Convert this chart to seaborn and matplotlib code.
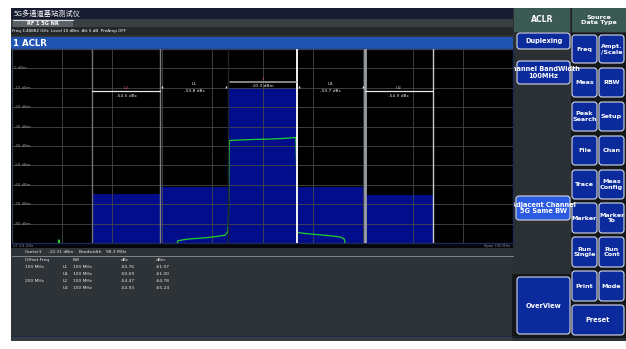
import numpy as np
import matplotlib
matplotlib.use("Agg")
import matplotlib.pyplot as plt
import matplotlib.patches as mpatches
import matplotlib.transforms as mtrans
import seaborn as sns

# ---- measurement data -------------------------------------------------
carrier_power = -10.31          # dBm, main channel
carrier_bw_label = "98.3 MHz"
channel_bw = 100.0              # MHz
channel_offsets = [-200, -100, 0, 100, 200]   # MHz from centre
channel_names = ["L2", "L1", "1", "U1", "U2"]

adj_names = ["L1", "U1", "L2", "U2"]
adj_offset_labels = ["100 MHz", "", "200 MHz", ""]
adj_bw_labels = ["100 MHz", "100 MHz", "100 MHz", "100 MHz"]
adj_dbc = [-50.76, -50.69, -54.47, -54.93]

# spectrum trace (frequency offset in MHz, level in dBm)
trace_freq = [-367.5, -300.0, -299.0, -298.0, -297.0, -130.0, -124.0, -110.0,
              -95.0, -80.0, -65.0, -55.0, -51.0, -50.0, -49.5, -49.0, -48.5,
              -40.0, -25.0, -10.0, 5.0, 20.0, 35.0, 48.0, 49.0, 50.0, 50.5,
              51.0, 60.0, 75.0, 90.0, 105.0, 115.0, 120.0, 124.0, 367.5]
trace_level = [-96, -96, -88.5, -88.5, -96, -96, -88.8, -88.0,
               -87.6, -87.2, -86.5, -86.0, -84.3, -80, -62, -44, -37.2,
               -37.0, -36.8, -36.6, -36.5, -36.3, -36.0, -35.6, -35.6, -50, -70,
               -84.5, -85.0, -85.5, -86.0, -86.5, -87.0, -88, -96, -96]

y_tick_values = [0, -10, -20, -30, -40, -50, -60, -70, -80]
y_tick_labels = ["0 dBm", "-10 dBm", "-20 dBm", "-30 dBm", "-40 dBm",
                 "-50 dBm", "-60 dBm", "-70 dBm", "-80 dBm"]
span = 735.0      # MHz
ref_level = 10.0  # dBm
bottom_level = -90.0

# ---- figure -----------------------------------------------------------
sns.set_theme(style="dark")
plt.rcParams['font.family'] = ['DejaVu Sans', 'Noto Sans CJK SC']
W, H = 626, 349
fig = plt.figure(figsize=(W / 100, H / 100), dpi=100, facecolor="white")

bg = fig.add_axes([0, 0, 1, 1], zorder=0)
bg.set_xlim(0, W)
bg.set_ylim(H, 0)
bg.axis("off")


def rect(x0, y0, x1, y1, color, **kw):
    bg.add_patch(mpatches.Rectangle((x0, y0), x1 - x0, y1 - y0,
                                    facecolor=color, edgecolor=kw.pop("ec", "none"),
                                    lw=kw.pop("lw", 0), **kw))


# screen body
rect(11, 8, 626, 341, "#2d3236")
# title bar
rect(11, 8, 513, 19, "#181c30")
bg.text(14, 13.5, "5G多通道基站测试仪", color="white", fontsize=5.2,
        va="center", family=["Noto Sans CJK SC", "DejaVu Sans"])
# tab row
rect(11, 19, 513, 27, "#3a3f44")
rect(13, 20, 73, 27, "#5b6167")
bg.plot([13, 73], [20.3, 20.3], color="#d8dde2", lw=0.8)
bg.text(43, 23.7, "RF 1 5G NR", color="white", fontsize=3.6,
        ha="center", va="center", weight="bold")
# info line
rect(11, 27, 513, 35, "#23272a")
bg.text(12, 31, "Freq 3.48882 GHz  Level 10 dBm  Att 5 dB  PreAmp OFF",
        color="white", fontsize=3.0, va="center")
# measurement header
rect(11, 37, 513, 48.5, "#2154b3")
bg.text(13, 43, "1 ACLR", color="white", fontsize=6.2, weight="bold", va="center")
# plot frame + strip below plot
rect(11, 48.5, 514, 248, "#05070c")
bg.text(13, 245.6, "CF 3.5 GHz", color="#8d949a", fontsize=2.6, va="center")
bg.text(510, 245.6, "Span 735 MHz", color="#8d949a", fontsize=2.6,
        va="center", ha="right")
# results area
rect(11, 248, 514, 336, "#2e3337")
bg.plot([12, 513], [256, 256], color="#8d949a", lw=0.6)
rect(11, 336, 626, 341, "#363b40")
bg.plot([11, 514], [336, 336], color="#1c2a44", lw=0.8)

txt = dict(color="#e4e6e8", fontsize=3.2, va="center")
bg.text(25, 252, "Carrier1", **txt)
bg.text(48, 252, f"{carrier_power:.2f} dBm", **txt)
bg.text(79, 252, "Bandwidth", **txt)
bg.text(106, 252, carrier_bw_label, **txt)
bg.text(25, 260, "Offset Freq", **txt)
bg.text(73, 260, "BW", **txt)
bg.text(121, 260, "dBc", **txt)
bg.text(156, 260, "dBm", **txt)
for i, (name, off, bw, dbc) in enumerate(zip(adj_names, adj_offset_labels,
                                             adj_bw_labels, adj_dbc)):
    y = 267 + 7 * i
    bg.text(25, y, off, **txt)
    bg.text(63, y, name, **txt)
    bg.text(73, y, bw, **txt)
    bg.text(121, y, f"{dbc:.2f}", **txt)
    bg.text(156, y, f"{carrier_power + dbc:.2f}", **txt)

# right-hand soft key panel
rect(513, 8, 626, 341, "#2b3034")
rect(514, 8, 570, 32, "#3c5a54")
rect(571, 8, 626, 32, "#3c5a54")
bg.plot([570.5, 570.5], [8, 32], color="#1e2326", lw=0.8)
bg.text(542, 20, "ACLR", color="white", fontsize=5.6, weight="bold",
        ha="center", va="center")
bg.text(598.5, 20, "Source\nData Type", color="white", fontsize=4.6,
        weight="bold", ha="center", va="center", linespacing=1.1)
rect(571, 33, 626, 338, "#15181b")
rect(512, 274, 573, 338, "#15181b")


def button(x0, y0, x1, y1, label, face="#0b2a9c", fs=4.8, clip=False):
    patch = mpatches.FancyBboxPatch((x0, y0), x1 - x0, y1 - y0,
                                    boxstyle="round,pad=0,rounding_size=3",
                                    facecolor=face, edgecolor="#d5dae6", lw=0.8)
    bg.add_patch(patch)
    t = bg.text((x0 + x1) / 2, (y0 + y1) / 2, label, color="white", fontsize=fs,
                weight="bold", ha="center", va="center", linespacing=1.15)
    if clip:
        t.set_clip_path(patch)


button(517, 33, 570, 49, "Duplexing")
button(517, 61, 570, 84, "Channel BandWidth\n100MHz", clip=True)
button(516, 196, 570, 220, "Adjacent Channel\n5G Same BW", face="#2b5be0", clip=True)
button(517, 277, 570, 334, "OverView")

rows = [(35, 63), (68, 97), (102, 131), (136, 165), (170, 199),
        (203, 233), (237, 267), (271, 301)]
grid_labels = [("Freq", "Ampt.\n/Scale"), ("Meas", "RBW"), ("Peak\nSearch", "Setup"),
               ("File", "Chan"), ("Trace", "Meas\nConfig"), ("Marker", "Marker\nTo"),
               ("Run\nSingle", "Run\nCont"), ("Print", "Mode")]
for (y0, y1), (a, b) in zip(rows, grid_labels):
    button(572, y0, 597, y1, a, fs=4.6)
    button(599, y0, 624, y1, b, fs=4.6)
button(572, 305, 624, 335, "Preset")

# ---- spectrum plot ----------------------------------------------------
px0, py0, px1, py1 = 12, 49, 513, 243
ax = fig.add_axes([px0 / W, (H - py1) / H, (px1 - px0) / W, (py1 - py0) / H], zorder=2)
ax.set_facecolor("black")
ax.set_xlim(-span / 2, span / 2)
ax.set_ylim(bottom_level, ref_level)
ax.set_xticks(np.linspace(-span / 2, span / 2, 11))
ax.set_yticks(np.arange(bottom_level, ref_level + 1, 10))
ax.tick_params(length=0, labelbottom=False, labelleft=False)
ax.set_axisbelow(False)
ax.grid(True, color="#44484c", lw=0.6)
for s in ax.spines.values():
    s.set_color("#1c2a55")
    s.set_linewidth(1.0)

channel_levels = [carrier_power + adj_dbc[2], carrier_power + adj_dbc[0],
                  carrier_power, carrier_power + adj_dbc[1], carrier_power + adj_dbc[3]]
ax.bar(channel_offsets, np.array(channel_levels) - bottom_level, bottom=bottom_level,
       width=channel_bw, color="#020d8c", edgecolor="none", zorder=1)

sns.lineplot(x=trace_freq, y=trace_level, ax=ax, color="#1fd02a", lw=0.9,
             estimator=None, zorder=3)

# channel boundaries
bounds = [(-250, "#6d7276", 1.0), (-150, "#7a7f83", 1.0), (-50, "#202428", 1.0),
          (50, "#f2f2f2", 1.4), (150, "#9a9ea2", 2.0), (250, "#c8cbce", 1.0)]
for xb, c, lw in bounds:
    ax.axvline(xb, color=c, lw=lw, zorder=4)

ylab = mtrans.blended_transform_factory(ax.transAxes, ax.transData)
for v, lab in zip(y_tick_values, y_tick_labels):
    ax.text(0.004, v, lab, transform=ylab, color="#8d949a", fontsize=2.8,
            va="center", zorder=5)

# channel power annotations
ann = mtrans.blended_transform_factory(ax.transData, ax.transAxes)
outer_dbc = {"L2": adj_dbc[2], "U2": adj_dbc[3]}
inner_dbc = {"L1": adj_dbc[0], "U1": adj_dbc[1]}
for name, xc in zip(channel_names, channel_offsets):
    if name in outer_dbc:
        ax.plot([xc - 50, xc + 50], [0.784, 0.784], transform=ann,
                color="#e8e8e8", lw=0.9, zorder=5)
        ax.text(xc, 0.800, name, transform=ann, color="#e05a5a" if name == "L2" else "#b9bec2",
                fontsize=3.2, ha="center", va="center", zorder=5)
        ax.text(xc, 0.757, f"{outer_dbc[name]:.1f} dBc", transform=ann,
                color="#e4e6e8", fontsize=3.2, ha="center", va="center", zorder=5)
    elif name in inner_dbc:
        ax.text(xc, 0.821, name, transform=ann, color="#e4e6e8",
                fontsize=3.2, ha="center", va="center", zorder=5)
        ax.text(xc, 0.786, f"{inner_dbc[name]:.1f} dBc", transform=ann,
                color="#e4e6e8", fontsize=3.2, ha="center", va="center", zorder=5)
        ax.plot([xc - 47, xc + 47], [0.805, 0.805], transform=ann, ls="none",
                marker="|", ms=1.5, color="#e4e6e8", zorder=5)
    else:
        ax.plot([xc - 47, xc + 50], [0.831, 0.831], transform=ann,
                color="#a9adb1", lw=1.1, zorder=5)
        ax.text(xc, 0.846, name, transform=ann, color="#e05a5a",
                fontsize=3.0, ha="center", va="center", zorder=5)
        ax.text(xc, 0.810, f"{carrier_power:.1f} dBm", transform=ann,
                color="#e4e6e8", fontsize=3.2, ha="center", va="center", zorder=5)

fig.savefig("out.png", dpi=100, facecolor="white")
